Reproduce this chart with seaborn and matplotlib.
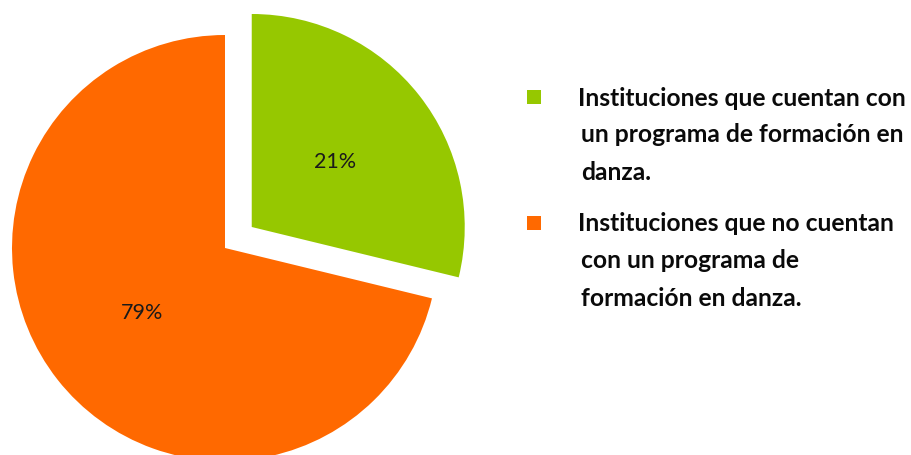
import matplotlib
matplotlib.use("Agg")
import matplotlib.pyplot as plt
import seaborn as sns
from matplotlib.patches import Rectangle

sns.set_theme(style="white")
plt.rcParams['font.family'] = ['Lato', 'DejaVu Sans']

# Data (wedge sizes as drawn in the reference; printed labels as in the reference)
categories = [
    "Instituciones que cuentan con\nun programa de formación en\ndanza.",
    "Instituciones que no cuentan\ncon un programa de\nformación en danza.",
]
wedge_shares = [28.8, 71.2]
pct_labels = ["21%", "79%"]
colors = ["#96C800", "#FF6900"]

W, H = 912, 455
fig = plt.figure(figsize=(W / 100, H / 100), dpi=100)
ax = fig.add_axes([0, 0, 1, 1])

wedges, texts = ax.pie(
    wedge_shares,
    colors=colors,
    startangle=90,
    counterclock=False,
    explode=[34, 0],
    center=(225, H - 248),
    radius=213,
    labels=pct_labels,
    labeldistance=0.495,
    wedgeprops=dict(linewidth=0),
    textprops=dict(fontsize=15.5, color="#1a1a1a"),
    frame=False,
)
for t in texts:
    t.set_ha("center")
    t.set_va("center")

ax.set_xlim(0, W)
ax.set_ylim(0, H)
ax.set_aspect("equal")
ax.axis("off")

# Legend drawn manually
entry_tops = [98, 224]
line_gap = 37
for cat, col, ytop in zip(categories, colors, entry_tops):
    ax.add_patch(Rectangle((527, H - ytop - 6), 14, 14, color=col, lw=0))
    for i, line in enumerate(cat.split("\n")):
        x = 578 if i == 0 else 581
        ax.text(x, H - (ytop + i * line_gap), line, fontsize=17.7, fontweight="bold",
                color="#0a0a0a", ha="left", va="center")

fig.savefig("out.png", dpi=100)
